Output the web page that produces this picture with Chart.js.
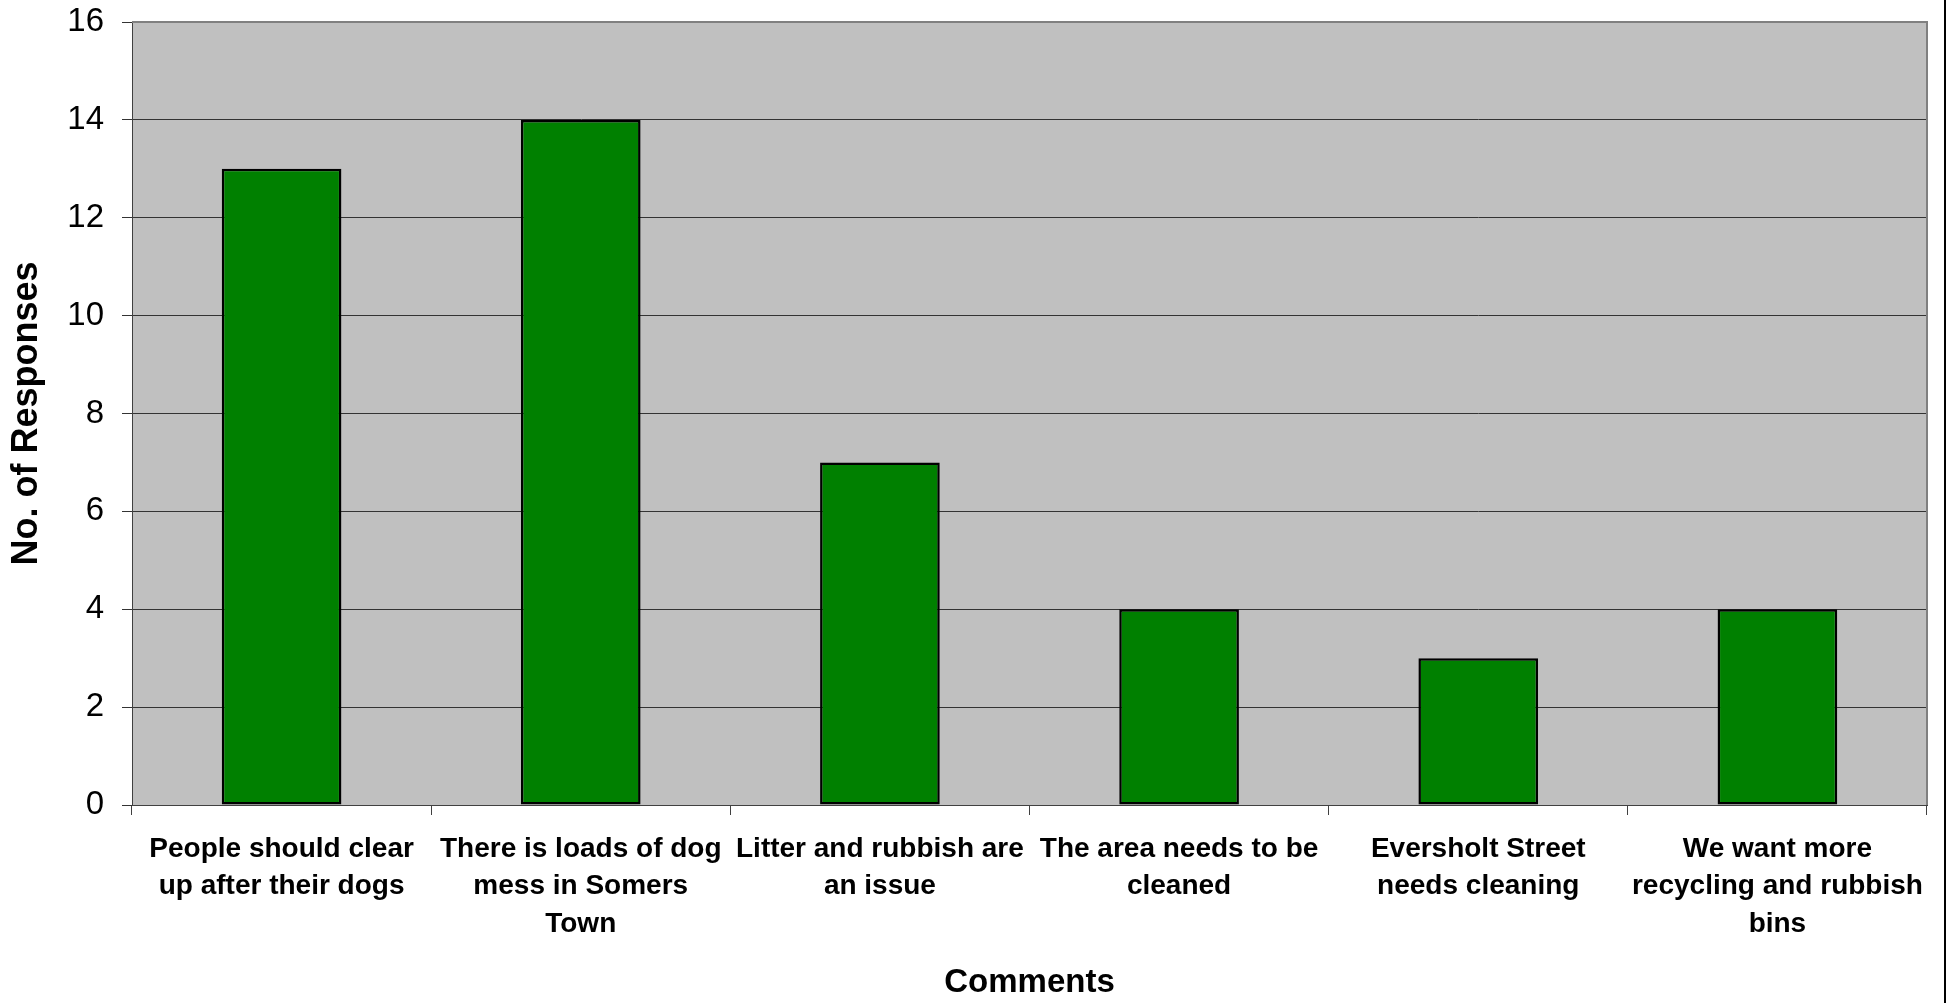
<!DOCTYPE html>
<html>
<head>
<meta charset="utf-8">
<script src="https://cdn.jsdelivr.net/npm/chart.js@4"></script>
<style>
html,body{margin:0;padding:0;background:#fff;}
#wrap{width:1946px;height:1003px;position:relative;}
</style>
</head>
<body>
<div id="wrap"><canvas id="c" width="1946" height="1003"></canvas></div>
<script>
const categories = [
  ["People should clear", "up after their dogs"],
  ["There is loads of dog", "mess in Somers", "Town"],
  ["Litter and rubbish are", "an issue"],
  ["The area needs to be", "cleaned"],
  ["Eversholt Street", "needs cleaning"],
  ["We want more", "recycling and rubbish", "bins"]
];
const responses = [13, 14, 7, 4, 3, 4];
const yTicks = [0, 2, 4, 6, 8, 10, 12, 14, 16];
const xTitle = "Comments";
const yTitle = "No. of Responses";

const FONT = "'Liberation Sans', Arial, sans-serif";

const framePlugin = {
  id: 'frame',
  beforeDraw(chart) {
    const {ctx, chartArea: a} = chart;
    ctx.save();
    ctx.fillStyle = '#C0C0C0';
    ctx.fillRect(a.left, a.top, a.right - a.left, a.bottom - a.top);
    ctx.restore();
  },
  afterDatasetsDraw(chart) {
    const {ctx, chartArea: a} = chart;
    ctx.save();
    ctx.strokeStyle = '#808080';
    ctx.lineWidth = 2;
    ctx.beginPath();
    ctx.moveTo(a.left, a.top);
    ctx.lineTo(a.right, a.top);
    ctx.lineTo(a.right, a.bottom);
    ctx.stroke();
    ctx.strokeStyle = '#000';
    ctx.lineWidth = 2;
    ctx.beginPath();
    ctx.moveTo(1945, 0);
    ctx.lineTo(1945, 1003);
    ctx.stroke();
    ctx.restore();
  }
};

new Chart(document.getElementById('c'), {
  type: 'bar',
  data: {
    labels: categories,
    datasets: [{
      data: responses,
      backgroundColor: '#008000',
      borderColor: '#000000',
      borderWidth: 2.5,
      borderSkipped: false,
      categoryPercentage: 1.0,
      barPercentage: 0.4
    }]
  },
  options: {
    responsive: false,
    animation: false,
    devicePixelRatio: 1,
    layout: {padding: {left: 0, top: 22, right: 19, bottom: 0}},
    plugins: {legend: {display: false}, tooltip: {enabled: false}},
    scales: {
      x: {
        grid: {display: true, drawOnChartArea: false, drawTicks: true, tickLength: 10, color: '#404040', lineWidth: 1, offset: true},
        border: {display: true, color: '#404040', width: 1},
        ticks: {color: '#000', font: {family: FONT, size: 28, weight: 'bold', lineHeight: 1.35}, padding: 15, maxRotation: 0, autoSkip: false},
        title: {display: true, text: xTitle, color: '#000', font: {family: FONT, size: 33, weight: 'bold'}, padding: {top: 0, bottom: 0}},
        afterFit(s) { s.height = 198; s.paddingLeft = 0; s.paddingRight = 0; }
      },
      y: {
        min: 0, max: 16,
        afterBuildTicks(s) { s.ticks = yTicks.map(v => ({value: v})); },
        grid: {color: '#333333', lineWidth: 1, tickLength: 10},
        border: {display: true, color: '#404040', width: 1},
        ticks: {color: '#000', font: {family: FONT, size: 33}, padding: 18},
        title: {display: true, text: yTitle, color: '#000', font: {family: FONT, size: 36, weight: 'bold'}, padding: {top: 5, bottom: 0}},
        afterFit(s) { s.width = 132; s.paddingTop = 0; s.paddingBottom = 0; }
      }
    }
  },
  plugins: [framePlugin]
});
</script>
</body>
</html>
